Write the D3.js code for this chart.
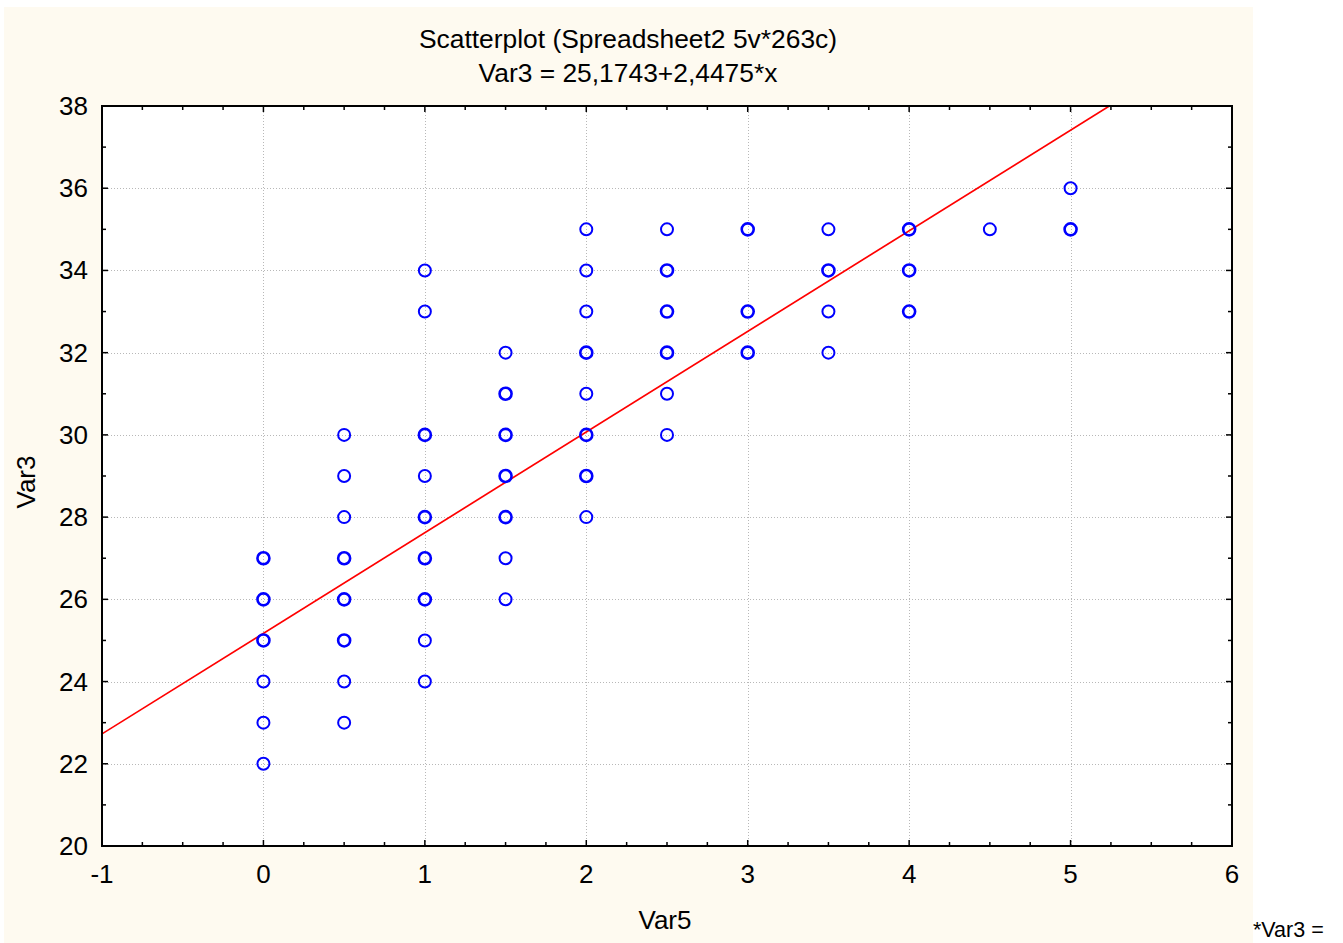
<!DOCTYPE html>
<html>
<head>
<meta charset="utf-8">
<script src="https://cdn.jsdelivr.net/npm/d3@7"></script>
<style>
  body { margin: 0; background: #fff; }
  text { font-family: "Liberation Sans", Arial, sans-serif; fill: #000; }
</style>
</head>
<body>
<div id="chart"></div>
<script>
// Var5 values, Var3 values, and how many cases sit on that spot
var var5 = [0, 0, 0, 0, 0, 0,
  0.5, 0.5, 0.5, 0.5, 0.5, 0.5, 0.5, 0.5,
  1, 1, 1, 1, 1, 1, 1, 1, 1,
  1.5, 1.5, 1.5, 1.5, 1.5, 1.5, 1.5,
  2, 2, 2, 2, 2, 2, 2, 2,
  2.5, 2.5, 2.5, 2.5, 2.5, 2.5,
  3, 3, 3,
  3.5, 3.5, 3.5, 3.5,
  4, 4, 4,
  4.5,
  5, 5];
var var3 = [22, 23, 24, 25, 26, 27,
  23, 24, 25, 26, 27, 28, 29, 30,
  24, 25, 26, 27, 28, 29, 30, 33, 34,
  26, 27, 28, 29, 30, 31, 32,
  28, 29, 30, 31, 32, 33, 34, 35,
  30, 31, 32, 33, 34, 35,
  32, 33, 35,
  32, 33, 34, 35,
  33, 34, 35,
  35,
  35, 36];
var counts = [1, 1, 1, 2, 2, 2,
  1, 1, 2, 2, 2, 1, 1, 1,
  1, 1, 2, 2, 2, 1, 2, 1, 1,
  1, 1, 2, 2, 2, 2, 1,
  1, 2, 2, 1, 2, 1, 1, 1,
  1, 1, 2, 2, 2, 1,
  2, 2, 2,
  1, 1, 2, 1,
  2, 2, 2,
  1,
  2, 1];

var intercept = 25.1743, slope = 2.4475;
var xTicks = [-1, 0, 1, 2, 3, 4, 5, 6];
var yTicks = [20, 22, 24, 26, 28, 30, 32, 34, 36, 38];

var W = 1343, H = 943;
var margin = {left: 102, top: 106, right: 1232, bottom: 846};

var svg = d3.select("#chart").append("svg")
    .attr("width", W)
    .attr("height", H);

svg.append("rect")
    .attr("x", 4).attr("y", 7)
    .attr("width", 1249).attr("height", H - 7)
    .attr("fill", "#fefaf0");

var x = d3.scaleLinear().domain([-1, 6]).range([margin.left, margin.right]);
var y = d3.scaleLinear().domain([20, 38]).range([margin.bottom, margin.top]);

svg.append("rect")
    .attr("x", margin.left).attr("y", margin.top)
    .attr("width", margin.right - margin.left)
    .attr("height", margin.bottom - margin.top)
    .attr("fill", "#fff");

// grid
var grid = svg.append("g")
    .attr("stroke", "#b8b8b8")
    .attr("stroke-width", 1)
    .attr("stroke-dasharray", "1,2");
grid.selectAll(".gx")
    .data(xTicks.slice(1, -1))
  .enter().append("line")
    .attr("x1", d => Math.round(x(d)) + 0.5).attr("x2", d => Math.round(x(d)) + 0.5)
    .attr("y1", margin.top).attr("y2", margin.bottom);
grid.selectAll(".gy")
    .data(yTicks.slice(1, -1))
  .enter().append("line")
    .attr("y1", d => Math.round(y(d)) + 0.5).attr("y2", d => Math.round(y(d)) + 0.5)
    .attr("x1", margin.left).attr("x2", margin.right);

// regression line, clipped to plot
svg.append("clipPath").attr("id", "clip")
  .append("rect")
    .attr("x", margin.left).attr("y", margin.top)
    .attr("width", margin.right - margin.left)
    .attr("height", margin.bottom - margin.top);

svg.append("line")
    .attr("clip-path", "url(#clip)")
    .attr("x1", x(-1)).attr("y1", y(intercept + slope * -1))
    .attr("x2", x(6)).attr("y2", y(intercept + slope * 6))
    .attr("stroke", "#ff0000")
    .attr("stroke-width", 1.7);

// points
svg.append("g").selectAll("circle")
    .data(d3.range(var5.length))
  .enter().append("circle")
    .attr("cx", i => x(var5[i]))
    .attr("cy", i => y(var3[i]))
    .attr("r", 6)
    .attr("fill", "none")
    .attr("stroke", "#0000ff")
    .attr("stroke-width", i => counts[i] > 1 ? 2.6 : 2);

// axes with inward ticks on all four sides
var xMinor = d3.range(-1, 6.001, 0.25);
var yMinor = d3.range(20, 38.001, 1);

function tickLen(v, step) { return Math.abs(v / step - Math.round(v / step)) < 1e-6 ? 6 : 4; }

var axes = svg.append("g").attr("stroke", "#000");
axes.selectAll(".tb")
    .data(xMinor)
  .enter().append("line")
    .attr("x1", d => x(d)).attr("x2", d => x(d))
    .attr("y1", margin.bottom).attr("y2", d => margin.bottom - tickLen(d, 1))
    .attr("stroke-width", 1.5);
axes.selectAll(".tt")
    .data(xMinor)
  .enter().append("line")
    .attr("x1", d => x(d)).attr("x2", d => x(d))
    .attr("y1", margin.top).attr("y2", d => margin.top + tickLen(d, 1))
    .attr("stroke-width", 1.5);
axes.selectAll(".tl")
    .data(yMinor)
  .enter().append("line")
    .attr("y1", d => y(d)).attr("y2", d => y(d))
    .attr("x1", margin.left).attr("x2", d => margin.left + tickLen(d, 2))
    .attr("stroke-width", 1.5);
axes.selectAll(".tr")
    .data(yMinor)
  .enter().append("line")
    .attr("y1", d => y(d)).attr("y2", d => y(d))
    .attr("x1", margin.right).attr("x2", d => margin.right - tickLen(d, 2))
    .attr("stroke-width", 1.5);

svg.append("rect")
    .attr("x", margin.left).attr("y", margin.top)
    .attr("width", margin.right - margin.left)
    .attr("height", margin.bottom - margin.top)
    .attr("fill", "none")
    .attr("stroke", "#000")
    .attr("stroke-width", 2);

// tick labels
svg.append("g").selectAll("text")
    .data(xTicks)
  .enter().append("text")
    .attr("x", d => x(d))
    .attr("y", 883)
    .attr("text-anchor", "middle")
    .style("font-size", "26px")
    .text(d => d);

svg.append("g").selectAll("text")
    .data(yTicks)
  .enter().append("text")
    .attr("x", 88)
    .attr("y", d => y(d) + 9)
    .attr("text-anchor", "end")
    .style("font-size", "26px")
    .text(d => d);

// titles
svg.append("text")
    .attr("x", 628).attr("y", 48)
    .attr("text-anchor", "middle")
    .style("font-size", "26.4px")
    .text("Scatterplot (Spreadsheet2 5v*263c)");
svg.append("text")
    .attr("x", 628).attr("y", 82)
    .attr("text-anchor", "middle")
    .style("font-size", "26.4px")
    .text("Var3 = 25,1743+2,4475*x");

svg.append("text")
    .attr("x", 665).attr("y", 929)
    .attr("text-anchor", "middle")
    .style("font-size", "26px")
    .text("Var5");
svg.append("text")
    .attr("transform", "translate(35,482) rotate(-90)")
    .attr("text-anchor", "middle")
    .style("font-size", "26px")
    .text("Var3");

svg.append("text")
    .attr("x", 1253).attr("y", 937)
    .style("font-size", "21.5px")
    .text("*Var3 =");
</script>
</body>
</html>
